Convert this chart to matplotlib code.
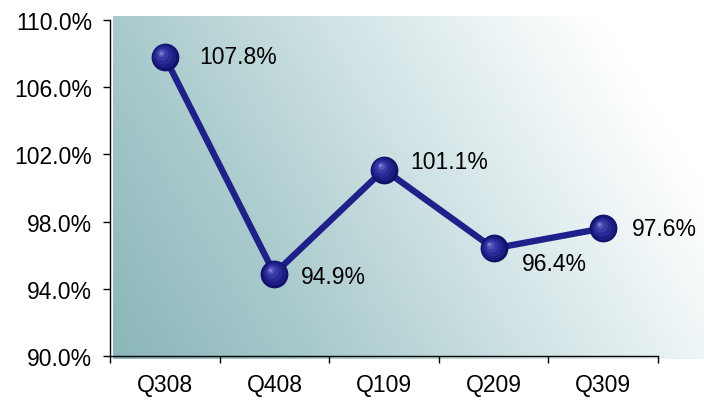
import numpy as np
import matplotlib.pyplot as plt
from matplotlib.colors import LinearSegmentedColormap
import matplotlib.transforms as mtransforms

plt.rcParams['font.family'] = ['Liberation Sans', 'DejaVu Sans']

quarters = ['Q308', 'Q408', 'Q109', 'Q209', 'Q309']
ratio = [107.8, 94.9, 101.1, 96.4, 97.6]
yticks = [90.0, 94.0, 98.0, 102.0, 106.0, 110.0]
# label offsets in points (dx, dy) from each point
label_offsets = [(25, 0), (19, -2), (19, 6), (20, -11), (21, 0)]

W, H = 704, 402
fig = plt.figure(figsize=(W / 100, H / 100), dpi=100)

# shaded backdrop behind the plot area
bg = fig.add_axes([113 / W, 1 - 360 / H, (W - 113) / W, (360 - 17) / H], zorder=0)
u = np.linspace(0, 1, 300)
v = np.linspace(0, 1, 200)
U, V = np.meshgrid(u, v)
t = np.clip(0.85 * U + 0.3 * (1 - V), 0, 1)
cmap = LinearSegmentedColormap.from_list(
    'bg', [(0, '#8ab6ba'), (0.3, '#a9cacc'), (0.6, '#cfe2e4'), (0.85, '#eef5f6'), (1, '#ffffff')])
bg.imshow(t, cmap=cmap, aspect='auto', origin='upper', extent=(0, 1, 0, 1), interpolation='bicubic')
bg.axis('off')

ax = fig.add_axes([110 / W, 1 - 357 / H, (658 - 110) / W, (357 - 21) / H], zorder=1)
ax.patch.set_alpha(0)
x = np.arange(len(quarters))

ax.plot(x, ratio, color='#20208a', lw=4.6, solid_capstyle='round', zorder=2)

# sphere-like markers: dark base with lighter layers nudged to upper-left
layers = [(20, '#11116c', 0, 0), (17, '#1c1c82', -0.5, 0.5), (13, '#2a2a96', -1.2, 1.2),
          (9, '#3a3aa6', -1.9, 1.9), (5, '#5454b8', -2.5, 2.5), (2.5, '#7c7cce', -3, 3)]
for ms, col, dx, dy in layers:
    tr = mtransforms.offset_copy(ax.transData, fig=fig, x=dx, y=dy, units='points')
    ax.plot(x, ratio, 'o', ms=ms, color=col, mec='none', transform=tr, zorder=3)

for xi, yi, (dx, dy) in zip(x, ratio, label_offsets):
    ax.annotate(f'{yi:.1f}%', (xi, yi), xytext=(dx, dy), textcoords='offset points',
                fontsize=16.5, va='center', ha='left', zorder=4)

ax.set_xlim(-0.5, len(quarters) - 0.5)
ax.set_ylim(90, 110)
ax.set_yticks(yticks)
ax.set_yticklabels([f'{v:.1f}%' for v in yticks])
ax.set_xticks(x)
ax.set_xticklabels(quarters)
ax.set_xticks(np.arange(-0.5, len(quarters)), minor=True)
ax.tick_params(axis='x', which='major', length=0, pad=12, labelsize=16.5)
ax.tick_params(axis='x', which='minor', length=5, width=1, direction='out')
ax.tick_params(axis='y', length=5, width=1, pad=8, labelsize=16.5)
for s in ('top', 'right'):
    ax.spines[s].set_visible(False)
for s in ('left', 'bottom'):
    ax.spines[s].set_linewidth(1)

fig.savefig('out.png', dpi=100)
